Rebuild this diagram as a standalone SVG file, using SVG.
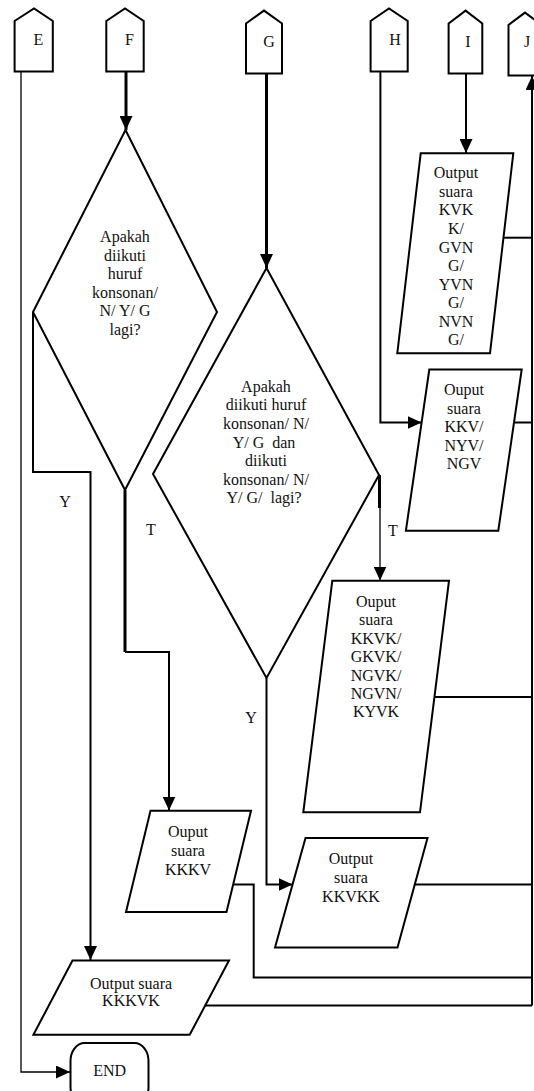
<svg xmlns="http://www.w3.org/2000/svg" width="534" height="1091" viewBox="0 0 534 1091">
  <style>
    .shape { fill: #fff; stroke: #000; stroke-width: 2; stroke-linejoin: miter; }
    .line { fill: none; stroke: #000; stroke-width: 2; }
    .thick { stroke-width: 3; }
    .thin { stroke-width: 1.3; }
    .lbl { font-family: 'Liberation Serif', 'DejaVu Serif', 'Times New Roman', serif; font-size: 16px; fill: #111; text-anchor: middle; }
  </style>
  <defs>
    <marker id="arrow" viewBox="0 0 14 13" refX="14" refY="6.5" markerWidth="14" markerHeight="13" markerUnits="userSpaceOnUse" orient="auto">
      <path d="M0,0 L14,6.5 L0,13 Z" fill="#000"/>
    </marker>
  </defs>

  <rect width="534" height="1091" fill="#fff"/>

  <!-- connectors -->
  <g id="connectors">
    <path class="line thin" d="M21,71.5 V1072 H70" marker-end="url(#arrow)"/>
    <path class="line thick" d="M126,71.5 V130" marker-end="url(#arrow)"/>
    <path class="line thick" d="M266.5,73.6 V268" marker-end="url(#arrow)"/>
    <path class="line" d="M380.4,71.5 V422.5 H421.5" marker-end="url(#arrow)"/>
    <path class="line" d="M466,73.6 V153" marker-end="url(#arrow)"/>
    <path class="line" d="M532,1005.5 V76" marker-end="url(#arrow)"/>
    <!-- first decision: Y branch and T branch -->
    <path class="line" d="M33,312 V472 H90.5 V960" marker-end="url(#arrow)"/>
    <path class="line thick" d="M125,490 V652"/>
    <path class="line" d="M125,652 H169 V810.5" marker-end="url(#arrow)"/>
    <!-- second decision: T branch and Y branch -->
    <path class="line thick" d="M379.5,475 V508"/>
    <path class="line thin" d="M380,508 V580.5" marker-end="url(#arrow)"/>
    <path class="line" d="M266.5,678 V884.6 H292.5" marker-end="url(#arrow)"/>
    <!-- outputs returning to J -->
    <path class="line" d="M503.5,237.7 H532"/>
    <path class="line" d="M514.1,422.5 H532"/>
    <path class="line" d="M434.4,697 H532"/>
    <path class="line" d="M414.7,884.6 H532"/>
    <path class="line" d="M233.1,884.6 H253.7 V977.5 H532"/>
    <path class="line" d="M205.2,1005.5 H532"/>
    <!-- branch labels -->
    <text class="lbl" x="65" y="506.5">Y</text>
    <text class="lbl" x="151" y="534.5">T</text>
    <text class="lbl" x="393" y="535.5">T</text>
    <text class="lbl" x="251" y="723">Y</text>
  </g>

  <!-- off-page connectors -->
  <g id="conn-E">
    <path class="shape" d="M14.6,21 L34,8.5 L52.8,21 V71.5 H14.6 Z"/>
    <text class="lbl" x="38.5" y="44.5">E</text>
  </g>
  <g id="conn-F">
    <path class="shape" d="M106.3,21 L125,8.5 L143.7,21 V71.5 H106.3 Z"/>
    <text class="lbl" x="129.4" y="44.5">F</text>
  </g>
  <g id="conn-G">
    <path class="shape" d="M246,23.5 L264,10.6 L282,23.5 V73.6 H246 Z"/>
    <text class="lbl" x="269" y="46.5">G</text>
  </g>
  <g id="conn-H">
    <path class="shape" d="M370.6,21 L389,8.5 L407.7,21 V71.5 H370.6 Z"/>
    <text class="lbl" x="395" y="44.5">H</text>
  </g>
  <g id="conn-I">
    <path class="shape" d="M448.6,23.5 L465.6,10.6 L482.3,23.5 V73.6 H448.6 Z"/>
    <text class="lbl" x="468" y="46.5">I</text>
  </g>
  <g id="conn-J">
    <path class="shape" d="M508.5,25 L525,12.6 L541.5,25 V75.6 H508.5 Z"/>
    <text class="lbl" x="527" y="46.5">J</text>
  </g>

  <!-- decision: followed by consonant/N/Y/G again -->
  <g id="decision-1">
    <path class="shape" d="M125.5,130 L217,312 L125,490 L33,312 Z"/>
    <text class="lbl" x="125" y="242">Apakah</text>
    <text class="lbl" x="125" y="260.5">diikuti</text>
    <text class="lbl" x="125" y="279">huruf</text>
    <text class="lbl" x="125" y="297.5">konsonan/</text>
    <text class="lbl" x="125" y="316">N/ Y/ G</text>
    <text class="lbl" x="125" y="334.5">lagi?</text>
  </g>

  <!-- decision: followed by consonant/N/Y/G twice -->
  <g id="decision-2">
    <path class="shape" d="M266.5,268 L379,475 L266.5,678 L153,474 Z"/>
    <text class="lbl" x="266" y="391.7">Apakah</text>
    <text class="lbl" x="266" y="410.3">diikuti huruf</text>
    <text class="lbl" x="266" y="428.9">konsonan/ N/</text>
    <text class="lbl" x="264" y="447.5" xml:space="preserve">Y/ G  dan</text>
    <text class="lbl" x="266" y="466.1">diikuti</text>
    <text class="lbl" x="266" y="484.7">konsonan/ N/</text>
    <text class="lbl" x="264" y="503.3" xml:space="preserve">Y/ G/  lagi?</text>
  </g>

  <!-- output KVKK / GVNG / YVNG / NVNG -->
  <g id="out-kvkk">
    <path class="shape" d="M420.7,153.3 H513.3 L490,353.3 H397.3 Z"/>
    <text class="lbl" x="456" y="178.3">Output</text>
    <text class="lbl" x="456" y="196.8">suara</text>
    <text class="lbl" x="456" y="215.4">KVK</text>
    <text class="lbl" x="456" y="233.9">K/</text>
    <text class="lbl" x="456" y="252.5">GVN</text>
    <text class="lbl" x="456" y="271">G/</text>
    <text class="lbl" x="456" y="289.6">YVN</text>
    <text class="lbl" x="456" y="308.1">G/</text>
    <text class="lbl" x="456" y="326.7">NVN</text>
    <text class="lbl" x="456" y="345.2">G/</text>
  </g>

  <!-- output KKV / NYV / NGV -->
  <g id="out-kkv">
    <path class="shape" d="M429.3,369.5 H521.7 L498.3,530.7 H405.9 Z"/>
    <text class="lbl" x="464" y="395">Ouput</text>
    <text class="lbl" x="464" y="413.5">suara</text>
    <text class="lbl" x="464" y="432">KKV/</text>
    <text class="lbl" x="464" y="450.5">NYV/</text>
    <text class="lbl" x="464" y="469">NGV</text>
  </g>

  <!-- output KKVK / GKVK / NGVK / NGVN / KYVK -->
  <g id="out-kkvk">
    <path class="shape" d="M332.3,580.7 H449 L420,812.3 H303.3 Z"/>
    <text class="lbl" x="376" y="606.7">Ouput</text>
    <text class="lbl" x="376" y="625.1">suara</text>
    <text class="lbl" x="376" y="643.6">KKVK/</text>
    <text class="lbl" x="376" y="662">GKVK/</text>
    <text class="lbl" x="376" y="680.5">NGVK/</text>
    <text class="lbl" x="376" y="698.9">NGVN/</text>
    <text class="lbl" x="376" y="717.4">KYVK</text>
  </g>

  <!-- output KKKV -->
  <g id="out-kkkv">
    <path class="shape" d="M150.5,810.7 H251 L226.5,912 H126 Z"/>
    <text class="lbl" x="188" y="836.8">Ouput</text>
    <text class="lbl" x="188" y="855.8">suara</text>
    <text class="lbl" x="188" y="875">KKKV</text>
  </g>

  <!-- output KKVKK -->
  <g id="out-kkvkk">
    <path class="shape" d="M305.5,838 H427.5 L397.5,947.6 H275 Z"/>
    <text class="lbl" x="351" y="864">Output</text>
    <text class="lbl" x="351" y="882.8">suara</text>
    <text class="lbl" x="351" y="902.2">KKVKK</text>
  </g>

  <!-- output KKKVK -->
  <g id="out-kkkvk">
    <path class="shape" d="M72.5,960.5 H229 L189.7,1034.8 H33.4 Z"/>
    <text class="lbl" x="131" y="988.5">Output suara</text>
    <text class="lbl" x="131" y="1006.2">KKKVK</text>
  </g>

  <!-- terminator -->
  <g id="end">
    <rect class="shape" x="70.5" y="1043" width="78" height="62" rx="14" ry="18"/>
    <text class="lbl" x="109.7" y="1075.5">END</text>
  </g>
</svg>
